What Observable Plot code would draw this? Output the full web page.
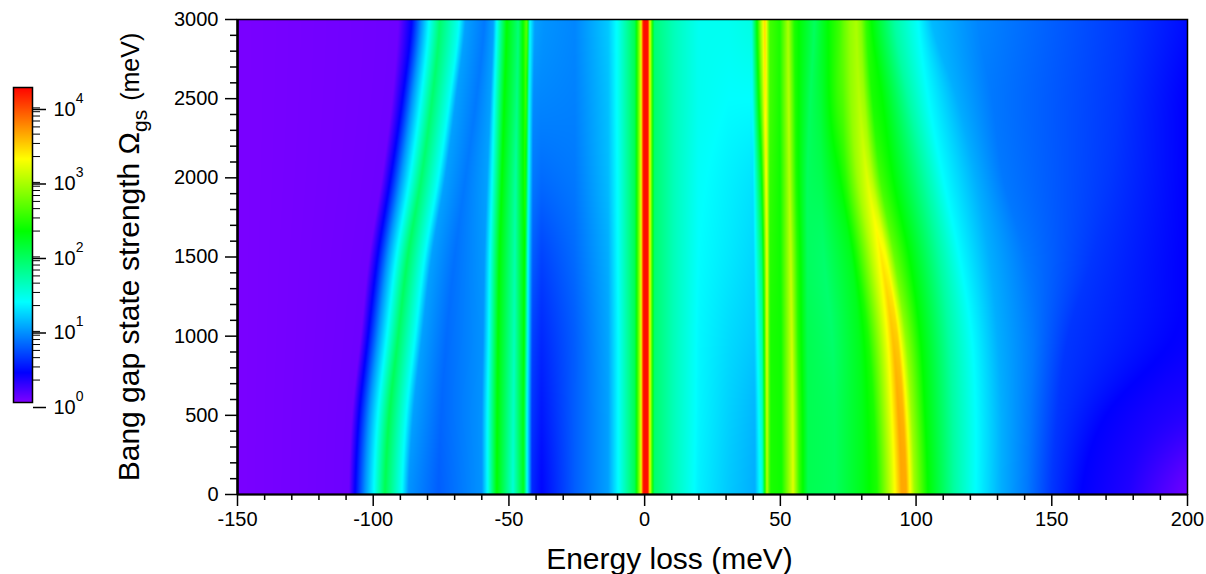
<!DOCTYPE html>
<html>
<head>
<meta charset="utf-8">
<style>
html,body{margin:0;padding:0;background:#fff}
#wrap{position:relative;width:1206px;height:574px;overflow:hidden}
#wrap svg{position:absolute;left:0;top:0;background:transparent}
</style>
<script src="https://cdn.jsdelivr.net/npm/d3@7"></script>
<script src="https://cdn.jsdelivr.net/npm/@observablehq/plot@0.6"></script>
</head>
<body>
<div id="wrap"></div>
<script>
// Rows of the map (bang gap state strength, meV)
const strengths = [0, 500, 1000, 1500, 2000, 2500, 3000];

// Energy loss (meV) of each feature along the map, one entry per row above
const featureX = [
  [-150,-150,-150,-150,-150,-150,-150],
  [-109,-107.8,-104.6,-101.5,-96.8,-93,-90.7],
  [-106.7,-105.2,-101.9,-98.4,-93.6,-89.2,-85.8],
  [-103,-101.5,-98.2,-94.7,-89.8,-85.6,-82.3],
  [-99.8,-98.3,-95,-91.5,-86.5,-82.4,-79.4],
  [-95.7,-94.1,-90.8,-87.3,-82.3,-78.3,-75.4],
  [-89.4,-87.8,-84.5,-81,-76,-72,-68.6],
  [-87,-85.3,-82,-78.5,-73.5,-69.5,-66],
  [-76,-75,-73,-70,-66,-62,-59],
  [-60,-60,-59.5,-59,-58,-56.8,-55.7],
  [-57.9,-57.9,-57.4,-57,-56.2,-55.4,-54.5],
  [-54.5,-54.3,-54,-53.5,-52.6,-51.7,-50.8],
  [-48.5,-48.3,-48,-47.8,-47.5,-47,-46.5],
  [-44.6,-44.6,-44.4,-44.2,-44,-43.7,-43.4],
  [-43.2,-43.2,-43,-42.9,-42.7,-42.5,-42.3],
  [-41.5,-41.5,-41.4,-41.3,-41.2,-41,-40.5],
  [-38,-38,-38,-38,-38,-38,-37],
  [-25.7,-25.7,-25.7,-25.7,-25.7,-25.7,-25.7],
  [-13.4,-13.4,-13.4,-13.4,-13.4,-13.4,-13.4],
  [-9.7,-9.7,-9.7,-9.7,-9.7,-9.7,-9.7],
  [-3.6,-3.6,-3.6,-3.6,-3.6,-3.6,-3.6],
  [-1.4,-1.4,-1.4,-1.4,-1.4,-1.4,-1.4],
  [-0.5,-0.5,-0.5,-0.5,-0.5,-0.5,-0.5],
  [1.2,1.2,1.2,1.2,1.2,1.2,1.2],
  [2,2,2,2,2,2,2],
  [3.5,3.5,3.5,3.5,3.5,3.5,3.5],
  [11,11,11,11,11,11,11],
  [19.8,19.8,19.8,19.8,19.8,19.8,19.8],
  [31,31,31,31,31,31,31],
  [40.6,40.6,40.4,40.2,40,39.7,39.4],
  [43.4,43.4,43.3,43.2,43,42.8,42.8],
  [45,45,45,45,44.8,44.5,44.3],
  [46.4,46.4,46.3,46.2,46.1,46.1,46.1],
  [50.4,50.3,50.2,50,49.9,49.8,49.8],
  [54.7,54.5,54.2,53.8,53.4,53.1,52.9],
  [57,56.8,56.5,56.2,55.8,55.5,55.2],
  [60.2,60.2,60,60,60,61,62.6],
  [70,70,69,66,65,65,67.6],
  [80,80,79,76,72,71,72],
  [85.6,84.5,82.3,78.2,74,73,73.5],
  [91,89.9,87.7,83.6,78.4,76,75.5],
  [94.6,93.5,91.3,87.2,82,79.1,78],
  [96.4,95.3,93.1,89,83.8,80.9,79.8],
  [99.4,98.3,96.1,92,86.8,83.9,81.5],
  [104.4,103.3,101.5,97.5,91.5,87.5,83.5],
  [114,113.5,112,108.5,103,97,92],
  [122,122,120.5,116,110,104.5,100.8],
  [131.4,131.5,130,127,122,115,105.6],
  [141,142,143,140,132,128,122.8],
  [150,152,156,165,172,175,178],
  [160.8,170,195,198,199,199,199],
  [178,186,199.3,199.5,199.6,199.7,199.8],
  [200,200,200,200,200,200,200]
];

// log10 of the intensity of each feature, same layout
const featureLevel = [
  [0.02,0.02,0.02,0.02,0.02,0.02,0.02],
  [0.06,0.06,0.06,0.06,0.06,0.06,0.06],
  [0.4,0.4,0.4,0.4,0.4,0.4,0.4],
  [0.95,0.95,0.95,0.95,0.95,0.95,0.95],
  [1.35,1.35,1.35,1.35,1.35,1.35,1.35],
  [2,2,1.95,1.95,1.9,1.9,1.9],
  [1.35,1.35,1.35,1.35,1.35,1.38,1.4],
  [0.95,1,1,1,1,1,1],
  [0.75,0.78,0.8,0.82,0.85,0.85,0.85],
  [0.95,0.95,0.95,0.97,1,1,1],
  [1.35,1.35,1.35,1.35,1.35,1.35,1.35],
  [2.3,2.3,2.3,2.3,2.3,2.3,2.3],
  [1.5,1.55,1.6,1.65,1.7,1.8,1.85],
  [2.2,2.25,2.3,2.35,2.45,2.55,2.7],
  [1.3,1.3,1.3,1.3,1.35,1.35,1.35],
  [0.55,0.6,0.65,0.75,0.85,0.92,1],
  [0.42,0.48,0.55,0.65,0.8,0.9,0.95],
  [0.75,0.75,0.75,0.8,0.85,0.88,0.9],
  [1,1,1.02,1.05,1.1,1.12,1.15],
  [1.35,1.35,1.35,1.37,1.38,1.4,1.4],
  [2,2,2,2,2,2,2],
  [3.1,3.1,3.1,3.1,3.1,3.1,3.1],
  [4.2,4.2,4.2,4.2,4.2,4.2,4.2],
  [4.2,4.2,4.2,4.2,4.2,4.2,4.2],
  [3.1,3.1,3.1,3.1,3.1,3.1,3.1],
  [1.9,1.9,1.9,1.9,1.9,1.9,1.85],
  [1.6,1.6,1.6,1.6,1.6,1.6,1.6],
  [1.3,1.32,1.33,1.35,1.37,1.4,1.4],
  [1.15,1.18,1.22,1.27,1.3,1.35,1.4],
  [1.05,1.08,1.15,1.2,1.25,1.35,1.45],
  [1.5,1.6,1.7,1.9,2.2,2.6,2.9],
  [3,3.1,3.2,3.25,3.3,3.4,3.45],
  [2.4,2.4,2.4,2.45,2.5,2.55,2.55],
  [2.35,2.35,2.35,2.35,2.35,2.38,2.4],
  [3.15,3.15,3.1,3.05,3,3,2.95],
  [2.5,2.5,2.45,2.45,2.4,2.4,2.4],
  [2,2,2,1.95,1.95,1.95,1.95],
  [1.95,1.95,1.9,1.9,2,2.1,2.3],
  [2.2,2.2,2.2,2.2,2.3,2.5,2.55],
  [2.4,2.4,2.4,2.4,2.45,2.6,2.7],
  [3.1,3.1,3.05,3,2.9,2.85,2.85],
  [3.6,3.6,3.5,3.35,3.15,3,2.95],
  [3.6,3.55,3.45,3.25,3,2.9,2.8],
  [2.9,2.9,2.85,2.7,2.55,2.4,2.5],
  [2.3,2.3,2.3,2.3,2.3,2.3,2.3],
  [1.7,1.7,1.7,1.7,1.7,1.7,1.7],
  [1.35,1.35,1.35,1.35,1.35,1.35,1.35],
  [1.05,1.05,1.05,1.05,1.05,1.05,1.1],
  [0.85,0.85,0.85,0.85,0.85,0.85,0.9],
  [0.6,0.6,0.6,0.6,0.6,0.6,0.6],
  [0.4,0.4,0.4,0.4,0.4,0.4,0.45],
  [0.3,0.33,0.39,0.39,0.4,0.42,0.43],
  [0.05,0.28,0.38,0.39,0.4,0.42,0.43]
];

const xMajor = [-150,-100,-50,0,50,100,150,200];
const xMinor = [-140,-130,-120,-110,-90,-80,-70,-60,-40,-30,-20,-10,10,20,30,40,60,70,80,90,110,120,130,140,160,170,180,190];
const yMajor = [0,500,1000,1500,2000,2500,3000];
const yMinor = [100,200,300,400,600,700,800,900,1100,1200,1300,1400,1600,1700,1800,1900,2100,2200,2300,2400,2600,2700,2800,2900];
const barMajor = [1,10,100,1000,10000];
const barMinor = [2,3,4,5,6,7,8,9,20,30,40,50,60,70,80,90,200,300,400,500,600,700,800,900,2000,3000,4000,5000,6000,7000,8000,9000];

// Rainbow colour map, anchored on log10 intensity
const colorStops = [0, 0.4, 1.35, 2.3, 3.27, 4.24];
const colorRange = ["#8000ff","#0000ff","#00ffff","#00ff00","#ffff00","#ff0000"];
const color = {type:"linear", domain:colorStops, range:colorRange, interpolate:"rgb", clamp:true};

const FONT = '"Liberation Sans", Arial, sans-serif';

const samples = strengths.flatMap((s, r) =>
  featureX.map((xs, k) => ({energy: xs[r], strength: s, level: featureLevel[k][r]})));

// Raster interpolator: ridges are followed smoothly from one row of the table to the next
const K = featureX.length, R = strengths.length;
const spline = (a, b, c, d, t) =>
  0.5 * (2 * b + (c - a) * t + (2 * a - 5 * b + 4 * c - d) * t * t + (3 * b - a - 3 * c + d) * t * t * t);
function followRidges(index, w, h, X, Y, V) {
  const out = new Float64Array(w * h);
  const s = Math.sign(Y[K] - Y[0]);
  for (let j = 0; j < h; ++j) {
    const py = j + 0.5;
    let r = 0;
    while (r < R - 2 && s * (Y[(r + 1) * K] - py) < 0) ++r;
    const ya = Y[r * K], yb = Y[(r + 1) * K];
    const t = Math.max(0, Math.min(1, (py - ya) / (yb - ya)));
    const r0 = Math.max(r - 1, 0), r3 = Math.min(r + 2, R - 1);
    const at = (A, q) => spline(A[r0 * K + q], A[r * K + q], A[(r + 1) * K + q], A[r3 * K + q], t);
    let k = 0;
    for (let i = 0; i < w; ++i) {
      const px = i + 0.5;
      while (k < K - 2 && at(X, k + 1) < px) ++k;
      const x0 = at(X, k), x1 = at(X, k + 1);
      const u = x1 > x0 ? Math.max(0, Math.min(1, (px - x0) / (x1 - x0))) : 1;
      out[j * w + i] = at(V, k) * (1 - u) + at(V, k + 1) * u;
    }
  }
  return out;
}

const main = Plot.plot({
  width: 1206, height: 574,
  marginLeft: 237, marginRight: 19, marginTop: 19, marginBottom: 80,
  style: {fontFamily: FONT, fontSize: "20px", color: "black", background: "transparent"},
  x: {domain: [-150, 200], label: null},
  y: {domain: [0, 3000], label: null},
  color,
  marks: [
    Plot.raster(samples, {x: "energy", y: "strength", fill: "level", x1: -150, x2: 200, y1: 0, y2: 3000, interpolate: followRidges}),
    Plot.frame({stroke: "black", strokeWidth: 1.5}),
    Plot.ruleX([-150], {stroke: "black", strokeWidth: 2.5}),
    Plot.ruleY([0], {stroke: "black", strokeWidth: 2}),
    Plot.axisX(xMajor, {tickSize: 12, tickPadding: 5, strokeWidth: 1.5, fontSize: 20, tickFormat: d => String(d), label: null}),
    Plot.axisX(xMinor, {tickSize: 6, strokeWidth: 1.5, fill: "none", label: null}),
    Plot.axisY(yMajor, {tickSize: 12, tickPadding: 7, strokeWidth: 1.5, fontSize: 20, tickFormat: d => String(d), label: null}),
    Plot.axisY(yMinor, {tickSize: 7, strokeWidth: 1.5, fill: "none", label: null}),
    Plot.text(["Energy loss (meV)"], {frameAnchor: "bottom", dx: -43, dy: 65, lineAnchor: "middle", fontSize: 30, fill: "black"}),
    Plot.text(["Bang gap state strength Ω|gs|(meV)"], {frameAnchor: "left", textAnchor: "middle", rotate: -90, dx: -108.6, fontSize: 30, fill: "black"})
  ]
});

const bar = Plot.plot({
  width: 120, height: 574,
  marginLeft: 13, marginRight: 88, marginTop: 87, marginBottom: 172,
  style: {fontFamily: FONT, fontSize: "20px", color: "black", background: "transparent"},
  x: {domain: [0, 1], axis: null},
  y: {type: "log", domain: [1, Math.pow(10, 4.228)], label: null},
  color,
  marks: [
    Plot.raster({fill: (x, y) => Math.log10(y), x1: 0, x2: 1, y1: 1, y2: Math.pow(10, 4.228), width: 1, height: 315}),
    Plot.frame({stroke: "black", strokeWidth: 1.5}),
    Plot.axisY(barMajor, {anchor: "right", tickSize: 13, tickPadding: 8, strokeWidth: 1.5, fontSize: 20, dy: 5, tickFormat: d => "10^" + Math.round(Math.log10(d)), label: null}),
    Plot.axisY(barMinor, {anchor: "right", tickSize: 7, strokeWidth: 1, fill: "none", label: null})
  ]
});

// Sub- and superscripts stay real text, set as tspans
d3.select(bar).selectAll("text").each(function () {
  const s = this.textContent;
  if (!s.includes("^")) return;
  const [base, exp] = s.split("^");
  const t = d3.select(this); t.text(base);
  t.append("tspan").attr("dy", -13).attr("font-size", 14).text(exp);
});
d3.select(main).selectAll("text").each(function () {
  const s = this.textContent;
  if (!s.includes("|")) return;
  const [a, b, c] = s.split("|");
  const t = d3.select(this); t.text(a);
  t.append("tspan").attr("dy", 8).attr("font-size", 21).text(b);
  t.append("tspan").attr("dy", -8).attr("dx", 9).attr("font-size", 25).text(c);
});

const wrap = document.getElementById("wrap");
wrap.append(main, bar);
</script>
</body>
</html>
